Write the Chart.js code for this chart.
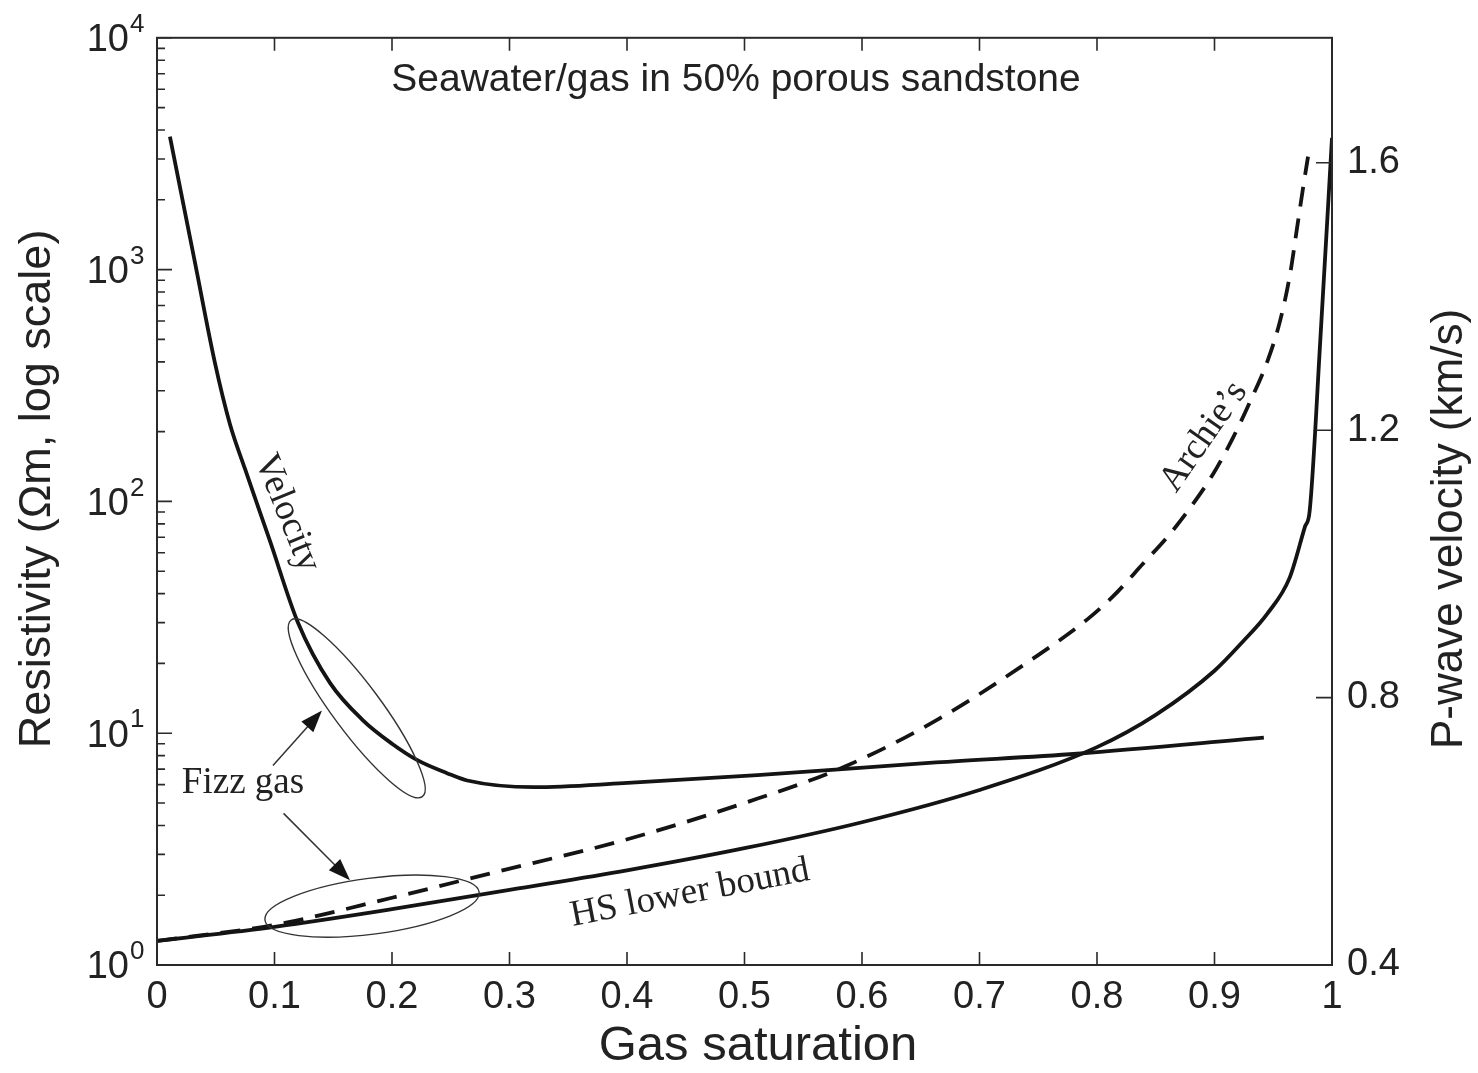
<!DOCTYPE html>
<html>
<head>
<meta charset="utf-8">
<title>Seawater/gas in 50% porous sandstone</title>
<script src="https://cdn.jsdelivr.net/npm/chart.js@4.4.1/dist/chart.umd.min.js"></script>
<style>
  html, body { margin: 0; padding: 0; background: #fff; }
</style>
</head>
<body>
<canvas id="fig" width="1478" height="1073"></canvas>
<script>
// ---- data ----
// P-wave velocity (km/s, right axis)
const velSat = [0.011, 0.0323, 0.0494, 0.0621, 0.0749, 0.0962, 0.120, 0.1472, 0.1753, 0.2, 0.222, 0.2468, 0.264, 0.321, 0.397, 0.511, 0.663, 0.783, 0.942];
const velKms = [1.639, 1.451, 1.300, 1.209, 1.142, 1.034, 0.912, 0.822, 0.766, 0.731, 0.706, 0.687, 0.676, 0.666, 0.672, 0.684, 0.703, 0.716, 0.740];

// Hashin-Shtrikman lower bound resistivity (ohm-m, left axis)
const hsSat = [0, 0.1, 0.2, 0.3, 0.4, 0.5, 0.6, 0.7, 0.8, 0.85, 0.9, 0.924, 0.945, 0.964, 0.977, 0.981, 0.99, 1.0];
const hsRes = [1.27, 1.46, 1.74, 2.11, 2.56, 3.19, 4.13, 5.69, 8.71, 12.0, 18.6, 24.8, 32.8, 46.9, 77.8, 91, 491, 3700];

// Archie's law resistivity (ohm-m, left axis)
const archieSat = [0, 0.1, 0.2, 0.283, 0.397, 0.5, 0.586, 0.665, 0.748, 0.7915, 0.8136, 0.8391, 0.8621, 0.8817, 0.8987, 0.9157, 0.9302, 0.9447, 0.9557, 0.9643, 0.9702, 0.9753, 0.9796];
const archieRes = [1.27, 1.49, 1.95, 2.48, 3.45, 5.0, 7.2, 11.5, 21.4, 30.9, 38.9, 53.8, 72.4, 97.5, 131, 188, 269, 398, 598, 954, 1506, 2239, 3073];

// ---- ticks ----
const xTickVals = [0, 0.1, 0.2, 0.3, 0.4, 0.5, 0.6, 0.7, 0.8, 0.9, 1];
const resDecades = [1, 10, 100, 1000, 10000];
const resExponents = ['0', '1', '2', '3', '4'];
const velTickVals = [0.4, 0.8, 1.2, 1.6];

const SANS = "'Liberation Sans', Arial, Helvetica, sans-serif";
const SERIF = "'Liberation Serif', 'Times New Roman', serif";
const INK = '#141414';
const TEXT = '#222';

function pts(xs, ys) {
  return xs.map((x, i) => ({ x: x, y: ys[i] }));
}

function arrow(ctx, x1, y1, x2, y2) {
  const ang = Math.atan2(y2 - y1, x2 - x1);
  const len = 22, half = 8;
  ctx.beginPath();
  ctx.moveTo(x1, y1);
  ctx.lineTo(x2 - Math.cos(ang) * len * 0.8, y2 - Math.sin(ang) * len * 0.8);
  ctx.stroke();
  ctx.beginPath();
  ctx.moveTo(x2, y2);
  ctx.lineTo(x2 - Math.cos(ang) * len - Math.sin(ang) * half, y2 - Math.sin(ang) * len + Math.cos(ang) * half);
  ctx.lineTo(x2 - Math.cos(ang) * len + Math.sin(ang) * half, y2 - Math.sin(ang) * len - Math.cos(ang) * half);
  ctx.closePath();
  ctx.fill();
}

function rotText(ctx, txt, x, y, deg) {
  ctx.save();
  ctx.translate(x, y);
  ctx.rotate(deg * Math.PI / 180);
  ctx.fillText(txt, 0, 0);
  ctx.restore();
}

// annotations: ellipses, arrows, curve labels
const notes = {
  id: 'notes',
  afterDatasetsDraw(chart) {
    const { ctx, scales } = chart;
    const X = v => scales.x.getPixelForValue(v);
    const Y = v => scales.y.getPixelForValue(v);
    ctx.save();
    ctx.strokeStyle = '#333';
    ctx.fillStyle = INK;
    ctx.lineWidth = 1.4;

    // fizz gas ellipses
    ctx.beginPath();
    ctx.ellipse(X(0.170), Y(12.8), 110, 24, 53.4 * Math.PI / 180, 0, Math.PI * 2);
    ctx.stroke();
    ctx.beginPath();
    ctx.ellipse(X(0.183), Y(1.795), 108, 28, -7.4 * Math.PI / 180, 0, Math.PI * 2);
    ctx.stroke();

    // arrows from "Fizz gas"
    ctx.lineWidth = 1.5;
    arrow(ctx, X(0.0987), Y(7.26), X(0.1404), Y(12.53));
    arrow(ctx, X(0.1077), Y(4.51), X(0.1643), Y(2.32));

    // curve labels
    ctx.fillStyle = TEXT;
    ctx.font = `37px ${SERIF}`;
    ctx.textAlign = 'center';
    ctx.textBaseline = 'middle';
    ctx.fillText('Fizz gas', X(0.0732), Y(6.08));
    rotText(ctx, 'Velocity', X(0.1106), Y(89), 68);
    rotText(ctx, "Archie\u2019s", X(0.891), Y(190), -55);
    rotText(ctx, 'HS lower bound', X(0.4536), Y(2.04), -11);

    // in-plot title
    ctx.font = `39px ${SANS}`;
    ctx.fillText('Seawater/gas in 50% porous sandstone', 736, 80);
    ctx.restore();
  }
};

// box, inward ticks, 10^n labels, side titles
const frame = {
  id: 'frame',
  afterDraw(chart) {
    const { ctx, chartArea: a, scales } = chart;
    const xs = scales.x, yl = scales.y, yr = scales.y2;
    ctx.save();
    ctx.strokeStyle = '#2a2a2a';
    ctx.lineWidth = 2;
    ctx.strokeRect(a.left, a.top, a.right - a.left, a.bottom - a.top);

    ctx.lineWidth = 1.6;
    ctx.beginPath();
    xTickVals.forEach(v => {
      const px = xs.getPixelForValue(v);
      ctx.moveTo(px, a.bottom); ctx.lineTo(px, a.bottom - 13);
      ctx.moveTo(px, a.top); ctx.lineTo(px, a.top + 13);
    });
    resDecades.forEach((d, i) => {
      const py = yl.getPixelForValue(d);
      ctx.moveTo(a.left, py); ctx.lineTo(a.left + 15, py);
      if (i < resDecades.length - 1) {
        for (let k = 2; k <= 9; k++) {
          const pm = yl.getPixelForValue(d * k);
          ctx.moveTo(a.left, pm); ctx.lineTo(a.left + 8, pm);
        }
      }
    });
    velTickVals.forEach(v => {
      const py = yr.getPixelForValue(v);
      ctx.moveTo(a.right, py); ctx.lineTo(a.right - 16, py);
    });
    ctx.stroke();

    // left tick labels 10^n
    ctx.fillStyle = TEXT;
    ctx.textBaseline = 'middle';
    resDecades.forEach((d, i) => {
      const py = yl.getPixelForValue(d);
      ctx.font = `38px ${SANS}`;
      ctx.textAlign = 'right';
      ctx.fillText('10', a.left - 28, py + 3);
      ctx.font = `26px ${SANS}`;
      ctx.textAlign = 'left';
      ctx.fillText(resExponents[i], a.left - 27, py - 13);
    });

    // axis titles (both read upwards)
    ctx.textAlign = 'center';
    ctx.font = `45px ${SANS}`;
    rotText(ctx, 'Resistivity (\u03A9m, log scale)', 38, 489, -90);
    ctx.font = `44px ${SANS}`;
    rotText(ctx, 'P-wave velocity (km/s)', 1450, 529, -90);
    ctx.font = `49px ${SANS}`;
    ctx.fillText('Gas saturation', 758, 1046);
    ctx.restore();
  }
};

const lineStyle = {
  borderColor: INK,
  borderWidth: 3.8,
  pointRadius: 0,
  cubicInterpolationMode: 'monotone'
};

new Chart(document.getElementById('fig'), {
  type: 'line',
  data: {
    datasets: [
      Object.assign({ label: 'Velocity', data: pts(velSat, velKms), yAxisID: 'y2' }, lineStyle),
      Object.assign({ label: 'HS lower bound', data: pts(hsSat, hsRes), yAxisID: 'y' }, lineStyle),
      Object.assign({ label: "Archie's", data: pts(archieSat, archieRes), yAxisID: 'y', borderDash: [20, 12] }, lineStyle)
    ]
  },
  options: {
    responsive: false,
    devicePixelRatio: 1,
    animation: false,
    layout: { padding: { left: 8, right: 8, top: 36, bottom: 0 } },
    plugins: {
      legend: { display: false },
      tooltip: { enabled: false }
    },
    scales: {
      x: {
        type: 'linear',
        position: 'bottom',
        min: 0,
        max: 1,
        afterBuildTicks: s => { s.ticks = xTickVals.map(v => ({ value: v })); },
        afterFit: s => { s.height = 108; },
        grid: { display: false, drawTicks: false },
        border: { display: false },
        ticks: {
          color: TEXT,
          padding: 10,
          maxRotation: 0,
          font: { family: SANS, size: 38 },
          callback: v => String(v)
        },
        title: { display: false }
      },
      y: {
        type: 'logarithmic',
        position: 'left',
        min: 1,
        max: 10000,
        afterFit: s => { s.width = 149; },
        grid: { display: false, drawTicks: false },
        border: { display: false },
        ticks: { display: false },
        title: { display: false }
      },
      y2: {
        type: 'linear',
        position: 'right',
        min: 0.4,
        max: 1.787,
        afterBuildTicks: s => { s.ticks = velTickVals.map(v => ({ value: v })); },
        afterFit: s => { s.width = 138; },
        grid: { display: false, drawTicks: false },
        border: { display: false },
        ticks: {
          color: TEXT,
          padding: 15,
          font: { family: SANS, size: 38 },
          callback: v => v.toFixed(1)
        }
      }
    }
  },
  plugins: [notes, frame]
});
</script>
</body>
</html>
